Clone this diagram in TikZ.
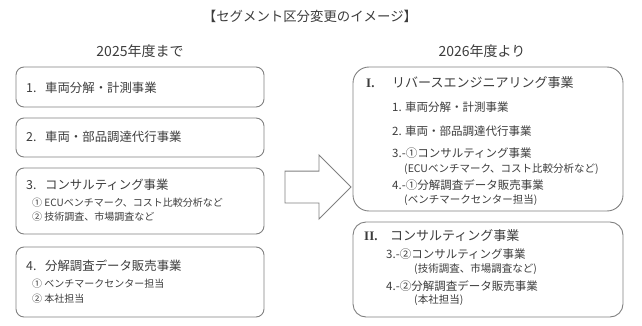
\documentclass[tikz,border=0pt]{standalone}
\usepackage{fontspec}
\setmainfont{Noto Sans CJK JP}
\newfontfamily\romfont{Liberation Serif}
\usetikzlibrary{shapes.arrows}
\definecolor{txtgray}{HTML}{3C3C3C}
\definecolor{boxgray}{HTML}{808080}

\begin{document}
\begin{tikzpicture}[x=1pt,y=-1pt,
  seg/.style={draw=boxgray,line width=0.9pt,rounded corners=8pt,minimum width=248pt,inner sep=0pt},
  newseg/.style={draw=boxgray,line width=0.9pt,minimum width=270pt,inner sep=0pt},
  big/.style={anchor=base west,inner sep=0pt,text=txtgray,font=\fontsize{12.4}{14}\selectfont},
  mid/.style={anchor=base west,inner sep=0pt,text=txtgray,font=\fontsize{11.5}{14}\selectfont},
  small/.style={anchor=base west,inner sep=0pt,text=txtgray,font=\fontsize{10}{12}\selectfont}]
  \useasboundingbox (0,0) rectangle (642,326);

  \node[anchor=base,text=txtgray,font=\fontsize{13.4}{16}\selectfont] (ttl) at (310,22) {【セグメント区分変更のイメージ】};
  \node[anchor=base,text=txtgray,font=\fontsize{14}{16}\selectfont] (old) at (140,57) {2025年度まで};
  \node[anchor=base,text=txtgray,font=\fontsize{14}{16}\selectfont] (new) at (482,57) {2026年度より};

  % until 2025
  \node[seg,minimum height=40pt] (b1) at (140,87) {};
  \node[seg,minimum height=39pt] (b2) at (140,137.5) {};
  \node[seg,minimum height=66pt] (b3) at (140,201) {};
  \node[seg,minimum height=70pt] (b4) at (140,282) {};

  \node[big] (b1t) at (26,92.5) {\makebox[19pt][l]{1.}車両分解・計測事業};
  \node[big] (b2t) at (26,141.5) {\makebox[19pt][l]{2.}車両・部品調達代行事業};
  \node[big] (b3t) at (26,189.5) {\makebox[19pt][l]{3.}コンサルティング事業};
  \node[small] (b3a) at (32,206) {① ECUベンチマーク、コスト比較分析など};
  \node[small] (b3b) at (32,220) {② 技術調査、市場調査など};
  \node[big] (b4t) at (26,270.5) {\makebox[19pt][l]{4.}分解調査データ販売事業};
  \node[small] (b4a) at (32,287) {① ベンチマークセンター担当};
  \node[small] (b4b) at (32,302) {② 本社担当};

  % block arrow
  \node[single arrow,draw=boxgray,line width=0.9pt,inner xsep=0pt,inner ysep=15.5pt,
    minimum height=66pt,single arrow head extend=16pt] (arr) at (310,187) {};

  % from 2026
  \node[newseg,rounded corners=16pt,minimum height=144pt] (r1) at (488,139) {};
  \node[newseg,rounded corners=13pt,minimum height=95pt] (r2) at (488,269.5) {};

  \node[big,font=\fontsize{13}{15}\selectfont] (r1t) at (366,88) {\makebox[26pt][l]{\romfont\bfseries I.}リバースエンジニアリング事業};
  \node[mid] (r1a) at (392,112) {1. 車両分解・計測事業};
  \node[mid] (r1b) at (392,135.5) {2. 車両・部品調達代行事業};
  \node[mid] (r1c) at (392,157.5) {3.-①コンサルティング事業};
  \node[small,font=\fontsize{10.5}{12}\selectfont] (r1d) at (404,172) {(ECUベンチマーク、コスト比較分析など)};
  \node[mid] (r1e) at (392,189.5) {4.-①分解調査データ販売事業};
  \node[small,font=\fontsize{10.5}{12}\selectfont] (r1f) at (404,203) {(ベンチマークセンター担当)};

  \node[big,font=\fontsize{13}{15}\selectfont] (r2t) at (364,240) {\makebox[26pt][l]{\romfont\bfseries II.}コンサルティング事業};
  \node[mid] (r2a) at (386,258.5) {3.-②コンサルティング事業};
  \node[small,font=\fontsize{10.5}{12}\selectfont] (r2b) at (414,272.5) {(技術調査、市場調査など)};
  \node[mid] (r2c) at (386,290) {4.-②分解調査データ販売事業};
  \node[small,font=\fontsize{10.5}{12}\selectfont] (r2d) at (414,303) {(本社担当)};
\end{tikzpicture}
\end{document}
